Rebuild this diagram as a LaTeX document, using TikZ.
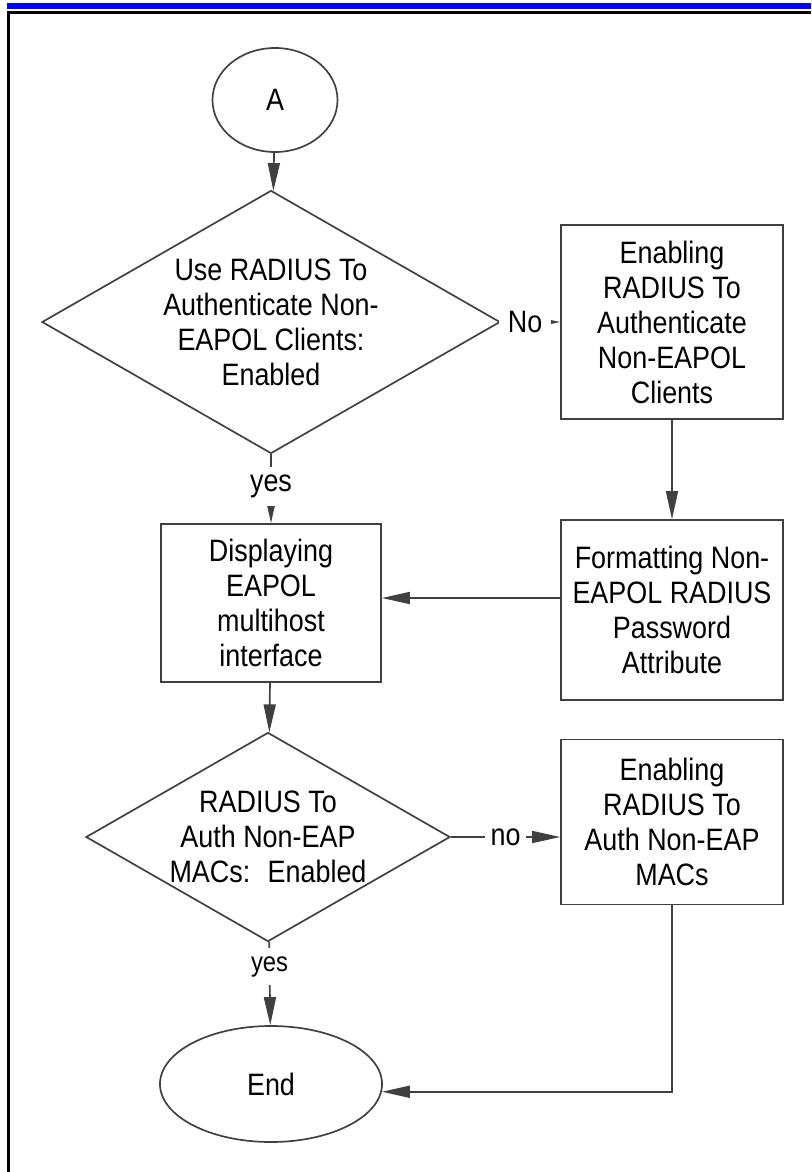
\documentclass[tikz,border=0pt]{standalone}
\usepackage{fontspec}
\setmainfont{Liberation Sans}[FakeStretch=0.87]
\usetikzlibrary{arrows.meta,shapes.geometric}

\begin{document}
\begin{tikzpicture}[x=0.025cm,y=-0.025cm,
  every node/.style={font=\fontsize{22}{24.9}\selectfont},
  ln/.style={draw=black!75,line width=1.2pt},
  a/.style={ln,-{Triangle[length=0.7cm,width=0.3cm]}},
  box/.style={ln,rectangle,align=center,minimum width=5.55cm,inner sep=0pt},
  dec/.style={ln,diamond,align=center,inner sep=0pt},
  term/.style={ln,ellipse,inner sep=0pt},
  yeslbl/.style={fill=white,inner xsep=0.05cm,inner ysep=0.2cm},
  nolbl/.style={fill=white,inner ysep=0.05cm}]
\useasboundingbox (0,0) rectangle (811,1172);
% page frame
\fill[blue] (7,3) rectangle (811,9);
\fill[black] (7,11) rectangle (811,14);
\fill[black] (7,11) rectangle (10,1172);
% nodes
\node[term,minimum width=3.125cm,minimum height=2.6cm] (start) at (275,100) {A};
\node[dec,aspect=1.74,minimum width=11.45cm,minimum height=6.575cm] (useRad) at (271,322) {Use RADIUS To\\Authenticate Non-\\EAPOL Clients:\\Enabled};
\node[box,minimum height=4.85cm] (enRad) at (672,322) {Enabling\\RADIUS To\\Authenticate\\Non-EAPOL\\Clients};
\node[box,minimum height=4.5cm] (fmt) at (672,610) {Formatting Non-\\EAPOL RADIUS\\Password\\Attribute};
\node[box,minimum width=5.5cm,minimum height=3.95cm] (disp) at (271,603) {Displaying\\EAPOL\\multihost\\interface};
\node[dec,aspect=1.75,minimum width=9.1cm,minimum height=5.225cm] (radMac) at (268,837) {RADIUS To\\Auth Non-EAP\\MACs:~ Enabled};
\node[box,minimum height=4.125cm] (enMac) at (672,822) {Enabling\\RADIUS To\\Auth Non-EAP\\MACs};
\node[term,minimum width=5.55cm,minimum height=2.9cm] (stop) at (271,1084) {End};
\coordinate (fmtIn) at ([yshift=0.3cm]fmt.west);
% connectors
\draw[a] (start) -- (useRad);
\draw[a] (useRad) -- node[nolbl,inner xsep=0.225cm,pos=.41]{No} (enRad);
\draw[a] (enRad) -- (fmt);
\draw[a] (useRad) -- node[yeslbl,pos=.47]{yes} (disp);
\draw[a] (fmtIn) -- (fmtIn -| disp.east);
\draw[a] (disp) -- (radMac);
\draw[a] (radMac.east) -- node[nolbl,inner xsep=0.15cm]{no} (radMac.east -| enMac.west);
\draw[a] (radMac) -- node[yeslbl,pos=.3,font=\fontsize{19.5}{22}\selectfont]{yes} (stop);
\draw[a] (enMac) |- (stop.-4);
\end{tikzpicture}
\end{document}
